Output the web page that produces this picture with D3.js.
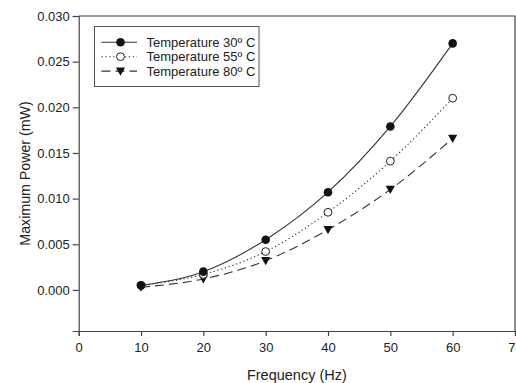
<!DOCTYPE html>
<html>
<head>
<meta charset="utf-8">
<script src="https://cdn.jsdelivr.net/npm/d3@7"></script>
<style>
  body { margin: 0; background: #fff; }
  svg { font-family: "Liberation Sans", Arial, sans-serif; }
</style>
</head>
<body>
<script>
// data
const freq = [10, 20, 30, 40, 50, 60];
const temp30 = [0.0005, 0.0020, 0.0055, 0.0107, 0.0179, 0.0270];
const temp55 = [0.0005, 0.0017, 0.0042, 0.0085, 0.0141, 0.0210];
const temp80 = [0.0003, 0.0012, 0.0032, 0.0066, 0.0110, 0.0166];
const xTicks = [0, 10, 20, 30, 40, 50, 60, 70];
const yTicks = [0, 0.005, 0.010, 0.015, 0.020, 0.025, 0.030];
const seriesNames = ["Temperature 30º C", "Temperature 55º C", "Temperature 80º C"];

const w = 516, h = 383;
const mLeft = 78.7, mRight = 515, mTop = 16, mBottom = 331;

const svg = d3.select("body").append("svg")
  .attr("width", w).attr("height", h);

const x = d3.scaleLinear().domain([0, 70]).range([mLeft, mRight]);
const y = d3.scaleLinear().domain([-0.0045, 0.030]).range([mBottom, mTop]);

const axisCol = "#444";

// frame (top + right)
svg.append("path")
  .attr("d", `M${mLeft},${mTop}H${mRight}V${mBottom}`)
  .attr("fill", "none").attr("stroke", axisCol).attr("stroke-width", 1.2);

const xAxis = svg.append("g")
  .attr("transform", `translate(0,${mBottom})`)
  .call(d3.axisBottom(x).tickValues(xTicks).tickSize(5).tickPadding(7).tickFormat(d3.format("d")));
const yAxis = svg.append("g")
  .attr("transform", `translate(${mLeft},0)`)
  .call(d3.axisLeft(y).tickValues(yTicks).tickSize(6).tickPadding(3).tickFormat(d3.format(".3f")));

[xAxis, yAxis].forEach(g => {
  g.select(".domain").attr("stroke", axisCol).attr("stroke-width", 1.2);
  g.selectAll(".tick line").attr("stroke", axisCol).attr("stroke-width", 1.2);
  g.selectAll(".tick text").attr("fill", "#222")
    .style("font-size", "13px").style("font-family", "Liberation Sans, Arial, sans-serif");
});

// axis titles
svg.append("text")
  .attr("x", (mLeft + mRight) / 2).attr("y", 380)
  .attr("text-anchor", "middle").attr("fill", "#222")
  .style("font-size", "14.5px")
  .text("Frequency (Hz)");
svg.append("text")
  .attr("transform", `translate(30,${(mTop + mBottom) / 2}) rotate(-90)`)
  .attr("text-anchor", "middle").attr("fill", "#222")
  .style("font-size", "14.2px")
  .text("Maximum Power (mW)");

const series = [
  { name: seriesNames[0], vals: temp30, dash: null, marker: "dot" },
  { name: seriesNames[1], vals: temp55, dash: "1.3,2.6", marker: "ring" },
  { name: seriesNames[2], vals: temp80, dash: "9,5", marker: "tri" }
];

const line = d3.line().curve(d3.curveMonotoneX)
  .x(d => x(d[0])).y(d => y(d[1]));

function drawMarker(g, kind, cx, cy) {
  if (kind === "dot") {
    g.append("circle").attr("cx", cx).attr("cy", cy).attr("r", 4.3).attr("fill", "#111");
  } else if (kind === "ring") {
    g.append("circle").attr("cx", cx).attr("cy", cy).attr("r", 3.9)
      .attr("fill", "#fff").attr("stroke", "#222").attr("stroke-width", 1);
  } else {
    const s = 4.6;
    g.append("path")
      .attr("d", `M${cx - s},${cy - s * 0.8}L${cx + s},${cy - s * 0.8}L${cx},${cy + s}Z`)
      .attr("fill", "#111");
  }
}

const plot = svg.append("g");
series.forEach(s => {
  const pts = freq.map((f, i) => [f, s.vals[i]]);
  plot.append("path")
    .attr("d", line(pts))
    .attr("fill", "none").attr("stroke", "#333").attr("stroke-width", 1.1)
    .attr("stroke-dasharray", s.dash);
});
// markers on top, drawn last-series first so the filled dots sit above
series.slice().reverse().forEach(s => {
  freq.forEach((f, i) => drawMarker(plot, s.marker, x(f), y(s.vals[i])));
});

// legend
const lg = svg.append("g");
lg.append("rect")
  .attr("x", 94.5).attr("y", 26.5).attr("width", 164.5).attr("height", 60)
  .attr("fill", "#fff").attr("stroke", "#555").attr("stroke-width", 1);
series.forEach((s, i) => {
  const ly = 42.3 + i * 14.4;
  lg.append("line")
    .attr("x1", 101.5).attr("x2", 137).attr("y1", ly).attr("y2", ly)
    .attr("stroke", "#333").attr("stroke-width", 1.1).attr("stroke-dasharray", s.dash);
  drawMarker(lg, s.marker, 120.5, ly);
  lg.append("text")
    .attr("x", 146.5).attr("y", ly + 4.6)
    .attr("fill", "#222").style("font-size", "13px")
    .text(s.name);
});
</script>
</body>
</html>
